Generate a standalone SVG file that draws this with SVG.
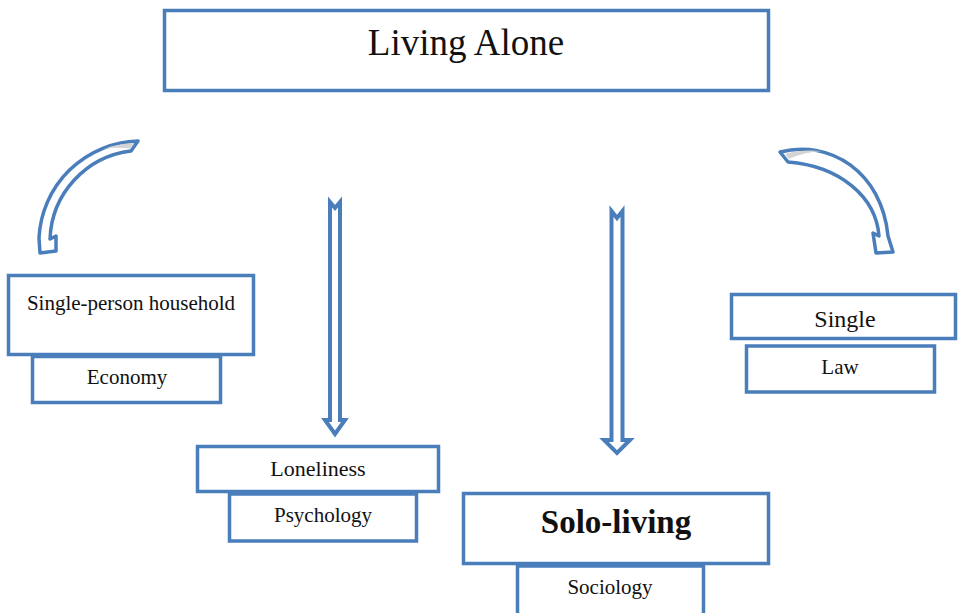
<svg xmlns="http://www.w3.org/2000/svg" width="960" height="613" viewBox="0 0 960 613">
<style>
.box{fill:#fff;stroke:#4a7ebb;stroke-width:3.5}
.arr{fill:#fff;stroke:#4a7ebb;stroke-width:4;stroke-linejoin:miter}
.carr{fill:#fff;stroke:#4a7ebb;stroke-width:3.5;stroke-linejoin:round}
.sl{fill:#d4d4d4}
text{font-family:"Liberation Serif","Times New Roman",serif;fill:#111;text-anchor:middle}
</style>
<rect width="960" height="613" fill="#fff"/>
<g id="connectors">
<path class="carr" d="M138 141 A102 102 0 0 0 39 238 L40 253 L56 251 L56 236 L50 239 A92 92 0 0 1 131 151 Z"/>
<path class="sl" d="M104 149 Q119 143 134 143.5 L130 148.5 Q117 147 104 149 Z"/>
<path class="carr" d="M780 152 C830 139 882 172 888 236 L893 252 L876 253 L873 233 L879 236 C876 197 840 166 788 162 Z"/>
<path class="sl" d="M785 154 Q800 149 822 151 Q804 152 789 159 Z"/>
<path class="arr" d="M330 202 L335 208 L340 202 L340 420 L345 420 L335 434 L325 420 L330 420 Z"/>
<path class="arr" d="M611.5 211 L617 218 L622.5 211 L622.5 440 L630 440 L617 453 L604 440 L611.5 440 Z"/>
</g>
<g id="living-alone">
<rect class="box" x="164.5" y="10.5" width="604" height="80"/>
<text x="466" y="55" font-size="37">Living Alone</text>
</g>
<g id="single-person-household">
<rect class="box" x="8.5" y="275.5" width="245" height="79"/>
<text x="131" y="310" font-size="21">Single-person household</text>
</g>
<g id="economy">
<rect class="box" x="32.5" y="356.5" width="188" height="46"/>
<text x="127" y="384" font-size="21">Economy</text>
</g>
<g id="single">
<rect class="box" x="731.5" y="294.5" width="224" height="44"/>
<text x="845" y="327" font-size="24">Single</text>
</g>
<g id="law">
<rect class="box" x="746.5" y="346" width="188" height="46"/>
<text x="840" y="374" font-size="21">Law</text>
</g>
<g id="loneliness">
<rect class="box" x="197.5" y="446.5" width="241" height="45"/>
<text x="318" y="476" font-size="22">Loneliness</text>
</g>
<g id="psychology">
<rect class="box" x="229.5" y="494" width="187" height="47"/>
<text x="323" y="522" font-size="21">Psychology</text>
</g>
<g id="solo-living">
<rect class="box" x="463.5" y="493.5" width="305" height="70"/>
<text x="616" y="533" font-size="33" font-weight="bold">Solo-living</text>
</g>
<g id="sociology">
<rect class="box" x="517.5" y="566" width="186" height="60"/>
<text x="610" y="594" font-size="21">Sociology</text>
</g>
</svg>
